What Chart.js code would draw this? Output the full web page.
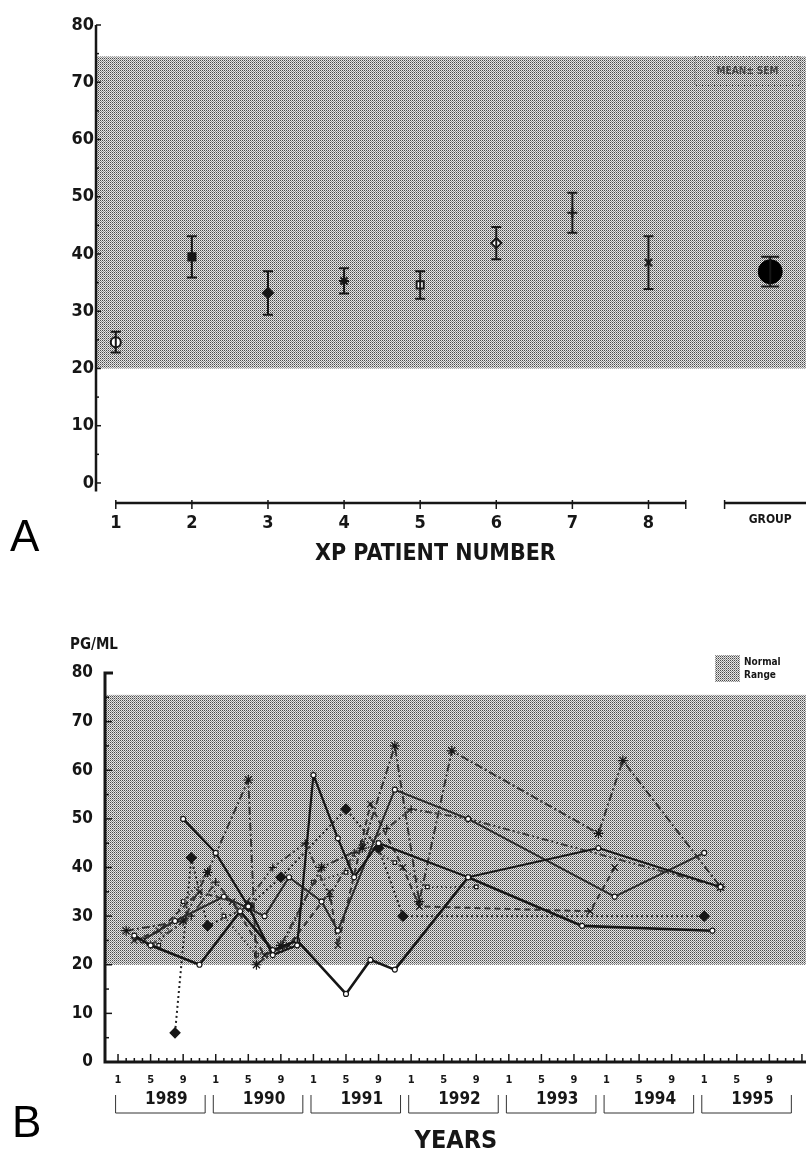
<!DOCTYPE html>
<html>
<head>
<meta charset="utf-8">
<script src="https://cdn.jsdelivr.net/npm/chart.js@4.4.1/dist/chart.umd.min.js"></script>
<style>
  body { margin: 0; background: #fff; }
  #page { position: relative; width: 806px; height: 1152px; overflow: hidden; }
  canvas { position: absolute; left: 0; }
  #chartA { top: 0; }
  #chartB { top: 600px; }
  .panel { position: absolute; font: 44px "Liberation Sans", Arial, sans-serif; line-height: 1; }
</style>
</head>
<body>
<div id="page">
  <canvas id="chartA" width="806" height="600"></canvas>
  <canvas id="chartB" width="806" height="552"></canvas>
  <div class="panel" style="left:10px; top:514px;">A</div>
  <div class="panel" style="left:12px; top:1100px;">B</div>
</div>
<script>
// ---- panel A data ----
const patientNums = [1, 2, 3, 4, 5, 6, 7, 8];
const patientMeans = [24.6, 39.5, 33.2, 35.3, 34.6, 41.9, 47.2, 38.5];
const patientSem = [1.8, 3.6, 3.8, 2.2, 2.4, 2.8, 3.5, 4.6];
const patientMarkers = ["circle", "rect", "rectRot", "star", "rect", "rectRot", "cross", "crossRot"];
const patientFilled = [false, true, true, false, false, false, false, false];
const groupLabel = "GROUP";
const groupPos = 9.6;
const groupMean = 36.9;
const groupSem = 2.6;
const yTicksA = [0, 10, 20, 30, 40, 50, 60, 70, 80];
const normalRangeA = [20, 74.5];

// ---- panel B data (x = month number, 1 = Jan 1989) ----
const years = [1989, 1990, 1991, 1992, 1993, 1994, 1995];
const monthLabels = [1, 5, 9];
const yTicksB = [0, 10, 20, 30, 40, 50, 60, 70, 80];
const normalRangeB = [20, 75.5];

const pt1Months = [9, 13, 17, 20, 23, 25, 28, 30, 33, 44, 60, 75];
const pt1Values = [50, 43, 32, 22, 24, 59, 46, 38, 45, 38, 44, 36];
const pt2Months = [3, 5, 11, 16, 20, 23, 29, 32, 35, 44, 58, 74];
const pt2Values = [26, 24, 20, 31, 23, 25, 14, 21, 19, 38, 28, 27];
const pt3Months = [4, 8, 14, 19, 22, 26, 28, 35, 44, 62, 73];
const pt3Values = [25, 29, 34, 30, 38, 33, 27, 56, 50, 34, 43];
const pt4Months = [8, 10, 12, 17, 21, 29, 33, 36, 73];
const pt4Values = [6, 42, 28, 32, 38, 52, 44, 30, 30];
const pt5Months = [2, 9, 12, 17, 18, 21, 26, 31, 35, 38, 42, 60, 63, 75];
const pt5Values = [27, 29, 39, 58, 20, 24, 40, 44, 65, 33, 64, 47, 62, 36];
const pt6Months = [3, 6, 11, 15, 19, 22, 27, 28, 32, 36, 38, 59, 62];
const pt6Values = [25, 27, 35, 33, 22, 24, 35, 24, 53, 40, 32, 31, 40];
const pt7Months = [5, 10, 13, 16, 20, 24, 27, 30, 34, 37, 44, 75];
const pt7Values = [24, 30, 37, 31, 40, 45, 34, 43, 48, 52, 50, 36];
const pt8Months = [6, 9, 12, 14, 18, 21, 25, 29, 31, 35, 39, 45];
const pt8Values = [24, 33, 39, 30, 22, 23, 37, 39, 45, 41, 36, 36];

const FONT = "'Liberation Sans Narrow', 'DejaVu Sans Condensed', 'Liberation Sans', Arial, sans-serif";
const INK = "#161616";

function halftone() {
    const c = document.createElement("canvas");
    c.width = 2; c.height = 2;
    const g = c.getContext("2d");
    g.fillStyle = "#e6e6e6"; g.fillRect(0, 0, 2, 2);
    g.fillStyle = "#4a4a4a"; g.fillRect(0, 0, 1, 1);
    g.fillStyle = "#909090"; g.fillRect(1, 1, 1, 1);
    return g.createPattern(c, "repeat");
}

function zip(xs, ys) {
    return xs.map((x, i) => ({ x: x, y: ys[i] }));
}

// ---------------- Panel A ----------------
const panelAExtras = {
    id: "panelAExtras",
    beforeDatasetsDraw(chart) {
        const { ctx, chartArea: a, scales: { x, y } } = chart;
        ctx.save();
        // normal range band
        const top = y.getPixelForValue(normalRangeA[1]);
        const bot = y.getPixelForValue(normalRangeA[0]);
        ctx.fillStyle = halftone();
        ctx.fillRect(a.left, top, a.right - a.left, bot - top);

        // y axis
        ctx.strokeStyle = INK;
        ctx.lineWidth = 2.5;
        ctx.beginPath();
        ctx.moveTo(a.left, y.getPixelForValue(80));
        ctx.lineTo(a.left, y.getPixelForValue(-1.5));
        ctx.stroke();
        ctx.lineWidth = 1.5;
        for (let v = 0; v <= 80; v += 5) {
            const py = y.getPixelForValue(v);
            ctx.beginPath();
            ctx.moveTo(a.left, py);
            ctx.lineTo(a.left + (v % 10 === 0 ? 5 : 3), py);
            ctx.stroke();
        }

        // x axis (patients) and group bracket
        ctx.lineWidth = 2.5;
        const ay = a.bottom;
        ctx.beginPath();
        ctx.moveTo(x.getPixelForValue(1), ay);
        ctx.lineTo(x.getPixelForValue(8.49), ay);
        ctx.moveTo(x.getPixelForValue(9.0), ay);
        ctx.lineTo(a.right, ay);
        ctx.stroke();
        ctx.lineWidth = 1.5;
        patientNums.concat([8.49, 9.0]).forEach(v => {
            const px = x.getPixelForValue(v);
            ctx.beginPath();
            ctx.moveTo(px, ay - 3);
            ctx.lineTo(px, ay + 6);
            ctx.stroke();
        });

        // MEAN ± SEM box
        ctx.setLineDash([1, 2]);
        ctx.lineWidth = 1;
        ctx.strokeStyle = "#555";
        const bx = a.right - 111, by = top, bw = 105, bh = 29;
        ctx.strokeRect(bx, by, bw, bh);
        ctx.setLineDash([]);
        ctx.fillStyle = "#444";
        ctx.font = "bold 10px " + FONT;
        ctx.textAlign = "center";
        ctx.textBaseline = "middle";
        ctx.fillText("MEAN\u00b1 SEM", bx + bw / 2, by + bh / 2);

        // axis title
        ctx.fillStyle = INK;
        ctx.font = "bold 23px " + FONT;
        ctx.fillText("XP PATIENT NUMBER", x.getPixelForValue(5.2), a.bottom + 51);
        ctx.restore();
    },
    afterDatasetsDraw(chart) {
        // error bars (mean +/- SEM)
        const { ctx, scales: { y } } = chart;
        ctx.save();
        ctx.strokeStyle = INK;
        ctx.lineWidth = 2;
        chart.data.datasets.forEach((ds, di) => {
            const meta = chart.getDatasetMeta(di);
            ds.sem.forEach((s, i) => {
                const el = meta.data[i];
                const m = ds.data[i].y;
                const t = y.getPixelForValue(m + s), b = y.getPixelForValue(m - s);
                const w = ds.capWidth;
                ctx.beginPath();
                ctx.moveTo(el.x, t); ctx.lineTo(el.x, b);
                ctx.moveTo(el.x - w, t); ctx.lineTo(el.x + w, t);
                ctx.moveTo(el.x - w, b); ctx.lineTo(el.x + w, b);
                ctx.stroke();
            });
        });
        ctx.restore();
    }
};

new Chart(document.getElementById("chartA"), {
    type: "scatter",
    data: {
        datasets: [
            {
                label: "Patients",
                data: zip(patientNums, patientMeans),
                sem: patientSem,
                capWidth: 5,
                pointStyle: patientMarkers,
                pointRadius: 5,
                pointBorderWidth: 2,
                borderColor: INK,
                pointBorderColor: INK,
                pointBackgroundColor: patientFilled.map(f => f ? INK : "#ffffff")
            },
            {
                label: groupLabel,
                data: [{ x: groupPos, y: groupMean }],
                sem: [groupSem],
                capWidth: 9,
                pointStyle: "circle",
                pointRadius: 12,
                pointBorderWidth: 1,
                pointBorderColor: "#000",
                pointBackgroundColor: "#000"
            }
        ]
    },
    options: {
        responsive: false,
        devicePixelRatio: 1,
        animation: false,
        layout: { autoPadding: false, padding: { top: 25, right: 0, bottom: 0, left: 0 } },
        plugins: { legend: { display: false }, tooltip: { enabled: false } },
        scales: {
            x: {
                type: "linear",
                min: 0.74,
                max: 10.07,
                grid: { display: false, drawTicks: false },
                border: { display: false },
                afterBuildTicks: s => { s.ticks = patientNums.concat([groupPos]).map(v => ({ value: v })); },
                afterFit: s => { s.height = 97; },
                ticks: {
                    padding: 10,
                    color: INK,
                    autoSkip: false,
                    maxRotation: 0,
                    font: c => (c.tick && c.tick.value === groupPos)
                        ? { family: FONT, size: 12, weight: "bold" }
                        : { family: FONT, size: 18, weight: "bold" },
                    callback: v => v === groupPos ? groupLabel : v
                }
            },
            y: {
                min: -3.5,
                max: 80,
                grid: { display: false, drawTicks: false },
                border: { display: false },
                afterBuildTicks: s => { s.ticks = yTicksA.map(v => ({ value: v })); },
                afterFit: s => { s.width = 96; },
                ticks: { padding: 2, color: INK, font: { family: FONT, size: 18, weight: "bold" } }
            }
        }
    },
    plugins: [panelAExtras]
});

// ---------------- Panel B ----------------
const monthTicks = [];
years.forEach((yr, i) => monthLabels.forEach(m => monthTicks.push(i * 12 + m)));

const panelBExtras = {
    id: "panelBExtras",
    beforeDatasetsDraw(chart) {
        const { ctx, chartArea: a, scales: { x, y } } = chart;
        ctx.save();
        const top = y.getPixelForValue(normalRangeB[1]);
        const bot = y.getPixelForValue(normalRangeB[0]);
        const pat = halftone();
        ctx.fillStyle = pat;
        ctx.fillRect(a.left, top, a.right - a.left, bot - top);

        // legend swatch "Normal Range"
        ctx.fillRect(a.right - 91, 55, 25, 27);
        ctx.fillStyle = INK;
        ctx.font = "bold 10px " + FONT;
        ctx.textAlign = "left";
        ctx.textBaseline = "middle";
        ctx.fillText("Normal", a.right - 62, 62);
        ctx.fillText("Range", a.right - 62, 75);

        // unit label
        ctx.font = "bold 15px " + FONT;
        ctx.fillText("PG/ML", 70, 45);

        // y axis
        ctx.strokeStyle = INK;
        ctx.lineWidth = 3;
        ctx.beginPath();
        ctx.moveTo(a.left + 8, y.getPixelForValue(80));
        ctx.lineTo(a.left, y.getPixelForValue(80));
        ctx.lineTo(a.left, y.getPixelForValue(0));
        ctx.lineTo(a.right, y.getPixelForValue(0));
        ctx.stroke();
        ctx.lineWidth = 1.5;
        for (let v = 5; v < 80; v += 5) {
            const py = y.getPixelForValue(v);
            ctx.beginPath();
            ctx.moveTo(a.left, py);
            ctx.lineTo(a.left + (v % 10 === 0 ? 7 : 4), py);
            ctx.stroke();
        }
        // month ticks on x axis
        const ay = y.getPixelForValue(0);
        for (let m = 1; m <= years.length * 12 + 12; m++) {
            const px = x.getPixelForValue(m);
            if (px > a.right) break;
            ctx.beginPath();
            ctx.moveTo(px, ay);
            ctx.lineTo(px, ay - ((m - 1) % 4 === 0 ? 8 : 4));
            ctx.stroke();
        }

        // year brackets and labels
        ctx.lineWidth = 1;
        ctx.strokeStyle = "#333";
        ctx.textAlign = "center";
        ctx.font = "bold 17px " + FONT;
        const yb = a.bottom + 51;
        years.forEach((yr, i) => {
            const x0 = x.getPixelForValue(i * 12 + 0.7);
            const x1 = x.getPixelForValue(i * 12 + 11.7);
            ctx.beginPath();
            ctx.moveTo(x0, yb - 18); ctx.lineTo(x0, yb);
            ctx.lineTo(x1, yb); ctx.lineTo(x1, yb - 18);
            ctx.stroke();
            ctx.fillText(String(yr), (x0 + x1) / 2 + 6, yb - 13);
        });
        ctx.font = "bold 25px " + FONT;
        ctx.fillText("YEARS", x.getPixelForValue(42.5), a.bottom + 79);
        ctx.restore();
    }
};

function series(label, months, values, style) {
    return Object.assign({
        label: label,
        data: zip(months, values),
        showLine: true,
        fill: false,
        borderColor: INK,
        pointBorderColor: INK,
        pointBackgroundColor: "#ffffff",
        pointBorderWidth: 1.2,
        borderWidth: 2,
        pointRadius: 2.5
    }, style);
}

new Chart(document.getElementById("chartB"), {
    type: "scatter",
    data: {
        datasets: [
            series("Pt 1", pt1Months, pt1Values, { borderWidth: 2.2, pointStyle: "circle" }),
            series("Pt 2", pt2Months, pt2Values, { borderWidth: 2.6, pointStyle: "circle" }),
            series("Pt 3", pt3Months, pt3Values, { borderWidth: 2, borderColor: "#2a2a2a", pointStyle: "circle" }),
            series("Pt 4", pt4Months, pt4Values, { borderDash: [2, 3], borderColor: "#222", pointStyle: "rectRot",
                pointRadius: 5, pointBackgroundColor: INK }),
            series("Pt 5", pt5Months, pt5Values, { borderDash: [8, 3, 2, 3], borderColor: "#333", pointStyle: "star",
                pointRadius: 5 }),
            series("Pt 6", pt6Months, pt6Values, { borderDash: [6, 4], borderColor: "#333", pointStyle: "crossRot",
                pointRadius: 4.5 }),
            series("Pt 7", pt7Months, pt7Values, { borderDash: [7, 3, 2, 3, 2, 3], borderColor: "#3a3a3a",
                pointStyle: "cross", pointRadius: 4 }),
            series("Pt 8", pt8Months, pt8Values, { borderDash: [1.5, 3], borderColor: "#444", pointStyle: "rect",
                pointRadius: 2.5, borderWidth: 2 })
        ]
    },
    options: {
        responsive: false,
        devicePixelRatio: 1,
        animation: false,
        layout: { autoPadding: false, padding: { top: 73, right: 0, bottom: 0, left: 0 } },
        plugins: { legend: { display: false }, tooltip: { enabled: false } },
        scales: {
            x: {
                type: "linear",
                min: -0.6,
                max: 85.5,
                grid: { display: false, drawTicks: false },
                border: { display: false },
                afterBuildTicks: s => { s.ticks = monthTicks.map(v => ({ value: v })); },
                afterFit: s => { s.height = 90; },
                ticks: {
                    padding: 12,
                    color: INK,
                    autoSkip: false,
                    maxRotation: 0,
                    font: { family: FONT, size: 11, weight: "bold" },
                    callback: v => ((v - 1) % 12) + 1
                }
            },
            y: {
                min: 0,
                max: 80,
                grid: { display: false, drawTicks: false },
                border: { display: false },
                afterBuildTicks: s => { s.ticks = yTicksB.map(v => ({ value: v })); },
                afterFit: s => { s.width = 105; },
                ticks: { padding: 12, color: INK, font: { family: FONT, size: 17, weight: "bold" } }
            }
        }
    },
    plugins: [panelBExtras]
});
</script>
</body>
</html>
